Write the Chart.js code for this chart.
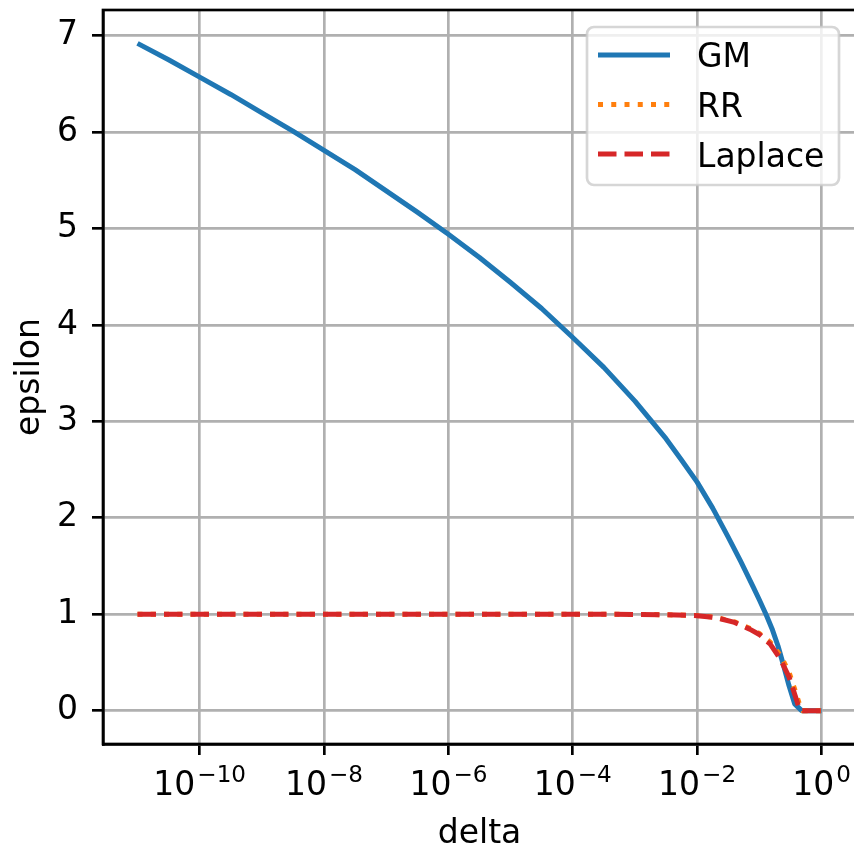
<!DOCTYPE html>
<html>
<head>
<meta charset="utf-8">
<script src="https://cdn.jsdelivr.net/npm/chart.js@4"></script>
<style>
  html, body { margin: 0; padding: 0; background: #fff; overflow: hidden; width: 854px; height: 848px; }
  canvas { display: block; }
</style>
</head>
<body>
<canvas id="myChart" width="860" height="848"></canvas>
<script>
'use strict';

// DATA
let gmDelta = [1e-11, 3.16e-11, 1e-10, 3.16e-10, 1e-9, 3.16e-9, 1e-8, 3.16e-8, 1e-7, 3.16e-7, 1e-6, 3.16e-6,
  1e-5, 3.16e-5, 1e-4, 3.16e-4, 1e-3, 3.16e-3, 5.6e-3, 1e-2, 0.0178, 0.0316, 0.05, 0.08, 0.1, 0.13, 0.16, 0.2,
  0.25, 0.3, 0.37, 0.48, 1];
let gmEps = [6.92, 6.75, 6.57, 6.39, 6.20, 6.01, 5.81, 5.61, 5.39, 5.17, 4.94, 4.70,
  4.44, 4.17, 3.87, 3.56, 3.21, 2.82, 2.60, 2.37, 2.10, 1.80, 1.55, 1.28, 1.15, 0.99, 0.85, 0.67,
  0.45, 0.26, 0.07, 0, 0];

let rrDelta = [1e-11, 1e-4, 1e-3, 3e-3, 1e-2, 0.02, 0.04, 0.07, 0.1, 0.15, 0.22, 0.3, 0.38, 0.45, 0.5, 1];
let rrEps = [1, 1, 0.998, 0.995, 0.987, 0.968, 0.92, 0.855, 0.80, 0.71, 0.57, 0.40, 0.20, 0.05, 0, 0];

let lapDelta = [1e-11, 1e-4, 1e-3, 3e-3, 1e-2, 0.02, 0.04, 0.07, 0.1, 0.15, 0.22, 0.3, 0.38, 0.45, 1];
let lapEps = [1, 1, 0.998, 0.994, 0.985, 0.965, 0.915, 0.845, 0.79, 0.69, 0.53, 0.35, 0.15, 0, 0];

let seriesNames = ['GM', 'RR', 'Laplace'];
let xTickExps = [-10, -8, -6, -4, -2, 0];
let yTicks = [0, 1, 2, 3, 4, 5, 6, 7];

// STYLE
const FONT = 'DejaVu Sans';
const FS = 33;
const LW = 5;
const SPINE = 2.67;

function toPoints(xs, ys) {
  let pts = [];
  for (let i = 0; i < xs.length; i++) {
    pts.push({ x: xs[i], y: ys[i] });
  }
  return pts;
}

// frame: top/right spines (left/bottom come from the scales)
const framePlugin = {
  id: 'frame',
  afterDatasetsDraw(chart) {
    const a = chart.chartArea;
    const ctx = chart.ctx;
    ctx.save();
    ctx.strokeStyle = '#000';
    ctx.lineWidth = SPINE;
    ctx.strokeRect(a.left, a.top, a.right - a.left, a.bottom - a.top);
    ctx.restore();
  }
};

// x tick labels as 10^n, axis titles
const labelPlugin = {
  id: 'labels',
  afterDraw(chart) {
    const ctx = chart.ctx;
    const xs = chart.scales.x;
    const a = chart.chartArea;
    ctx.save();
    ctx.fillStyle = '#000';
    ctx.textBaseline = 'alphabetic';
    ctx.textAlign = 'left';
    for (let i = 0; i < xTickExps.length; i++) {
      let px = xs.getPixelForValue(Math.pow(10, xTickExps[i]));
      let exp = xTickExps[i] < 0 ? '\u2212' + Math.abs(xTickExps[i]) : String(xTickExps[i]);
      ctx.font = FS + 'px "' + FONT + '"';
      let wb = ctx.measureText('10').width;
      ctx.font = (FS * 0.7) + 'px "' + FONT + '"';
      let we = ctx.measureText(exp).width;
      let start = px - (wb + 2 + we) / 2;
      ctx.font = FS + 'px "' + FONT + '"';
      ctx.fillText('10', start, 795);
      ctx.font = (FS * 0.7) + 'px "' + FONT + '"';
      ctx.fillText(exp, start + wb + 2, 782);
    }
    ctx.font = FS + 'px "' + FONT + '"';
    ctx.textAlign = 'center';
    ctx.fillText('delta', (a.left + a.right) / 2, 843);
    ctx.translate(39, (a.top + a.bottom) / 2);
    ctx.rotate(-Math.PI / 2);
    ctx.fillText('epsilon', 0, 0);
    ctx.restore();
  }
};

// legend box in the upper right corner
const legendPlugin = {
  id: 'boxLegend',
  afterDraw(chart) {
    const ctx = chart.ctx;
    const x0 = 587, y0 = 27, w = 252, h = 158, r = 7;
    ctx.save();
    ctx.beginPath();
    ctx.roundRect(x0, y0, w, h, r);
    ctx.fillStyle = 'rgba(255,255,255,0.8)';
    ctx.fill();
    ctx.strokeStyle = 'rgba(204,204,204,0.8)';
    ctx.lineWidth = SPINE;
    ctx.stroke();
    let rows = [55, 104.5, 154];
    let bases = [66.5, 116.5, 166.5];
    chart.data.datasets.forEach((ds, i) => {
      ctx.beginPath();
      ctx.strokeStyle = ds.borderColor;
      ctx.lineWidth = ds.borderWidth;
      ctx.setLineDash(ds.borderDash || []);
      ctx.lineCap = 'butt';
      ctx.moveTo(598, rows[i]);
      ctx.lineTo(670, rows[i]);
      ctx.stroke();
      ctx.setLineDash([]);
      ctx.fillStyle = '#000';
      ctx.font = FS + 'px "' + FONT + '"';
      ctx.textAlign = 'left';
      ctx.textBaseline = 'alphabetic';
      ctx.fillText(ds.label, 697, bases[i]);
    });
    ctx.restore();
  }
};

const data = {
  datasets: [{
    label: seriesNames[0],
    data: toPoints(gmDelta, gmEps),
    borderColor: '#1f77b4',
    borderWidth: LW,
    order: 2
  },
  {
    label: seriesNames[1],
    data: toPoints(rrDelta, rrEps),
    borderColor: '#ff7f0e',
    borderWidth: LW,
    borderDash: [LW * 1, LW * 1.65],
    order: 1
  },
  {
    label: seriesNames[2],
    data: toPoints(lapDelta, lapEps),
    borderColor: '#d62728',
    borderWidth: LW,
    borderDash: [LW * 3.7, LW * 1.6],
    order: 0
  }]
};

const config = {
  type: 'line',
  data: data,
  plugins: [framePlugin, labelPlugin, legendPlugin],
  options: {
    responsive: false,
    animation: false,
    devicePixelRatio: 1,
    layout: { padding: { top: 10, right: 4, left: 0, bottom: 0 } },
    elements: {
      point: { radius: 0 },
      line: { tension: 0, fill: false, borderCapStyle: 'butt', borderJoinStyle: 'round' }
    },
    plugins: {
      legend: { display: false },
      tooltip: { enabled: false }
    },
    scales: {
      x: {
        type: 'logarithmic',
        min: Math.pow(10, -11.555),
        max: Math.pow(10, 0.555),
        afterBuildTicks: (scale) => {
          scale.ticks = xTickExps.map(e => ({ value: Math.pow(10, e) }));
        },
        afterFit: (scale) => {
          scale.height = 104;
          scale.paddingLeft = 0;
          scale.paddingRight = 0;
        },
        ticks: { autoSkip: false, maxRotation: 0, callback: () => '' },
        grid: { color: '#b0b0b0', lineWidth: 2.67, drawTicks: true, tickLength: 11, tickColor: '#000', tickWidth: SPINE },
        border: { display: true, color: '#000', width: SPINE }
      },
      y: {
        type: 'linear',
        min: -0.346,
        max: 7.266,
        afterBuildTicks: (scale) => {
          scale.ticks = yTicks.map(v => ({ value: v }));
        },
        afterFit: (scale) => {
          scale.width = 103;
          scale.paddingTop = 0;
          scale.paddingBottom = 0;
        },
        ticks: {
          color: '#000',
          padding: 14,
          font: { family: FONT, size: FS },
          callback: (v) => String(v)
        },
        grid: { color: '#b0b0b0', lineWidth: 2.67, drawTicks: true, tickLength: 11, tickColor: '#000', tickWidth: SPINE },
        border: { display: true, color: '#000', width: SPINE }
      }
    }
  }
};

let canvasChart = document.getElementById('myChart');
const myChart = new Chart(canvasChart, config);
</script>
</body>
</html>
